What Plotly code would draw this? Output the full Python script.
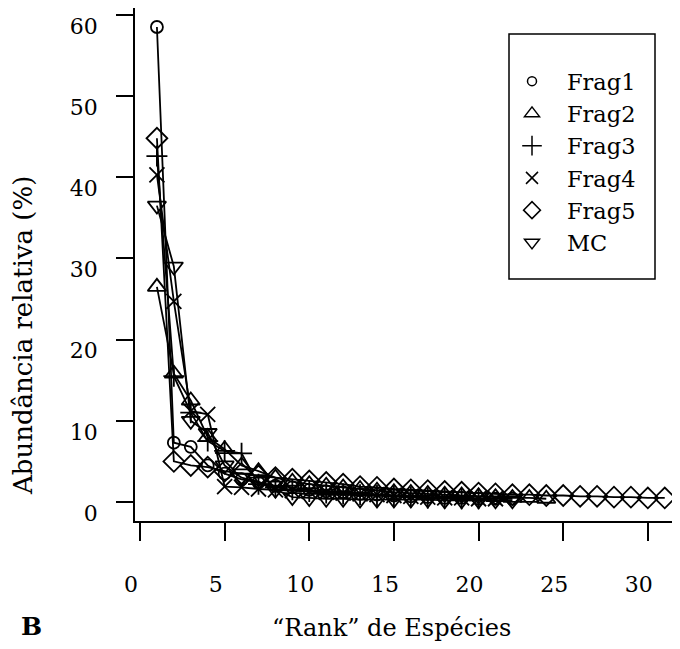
import plotly.graph_objects as go

# ---- data ----
series_names = ["Frag1", "Frag2", "Frag3", "Frag4", "Frag5", "MC"]
frag1 = [58.5, 7.3, 6.8, 4.5, 3.5, 2.8, 2.4, 2.0, 1.8, 1.5, 1.3, 1.2, 1.0, 0.9, 0.8, 0.7, 0.6, 0.5, 0.5, 0.4, 0.4, 0.4]
frag2 = [26.5, 15.8, 12.5, 8.0, 6.5, 4.5, 3.8, 3.0, 2.5, 2.2, 2.0, 1.8, 1.6, 1.4, 1.2, 1.1, 1.0, 0.9, 0.8, 0.7, 0.6, 0.5, 0.5, 0.4]
frag3 = [42.6, 15.5, 11.0, 7.5, 6.3, 6.0, 2.2, 1.8, 1.5, 1.3, 1.1, 1.0, 0.9, 0.8, 0.7, 0.6, 0.5, 0.5, 0.4, 0.4]
frag4 = [40.3, 24.7, 11.2, 10.8, 1.9, 1.8, 1.6, 1.5, 1.4, 1.3, 1.2, 1.1, 1.0, 0.9, 0.8, 0.7, 0.6, 0.5, 0.5, 0.4, 0.4]
frag5 = [44.8, 5.0, 4.5, 4.3, 3.8, 3.5, 3.2, 3.0, 2.8, 2.6, 2.4, 2.2, 1.9, 1.8, 1.6, 1.5, 1.4, 1.3, 1.2, 1.1,
         1.0, 0.9, 0.9, 0.8, 0.8, 0.7, 0.7, 0.6, 0.6, 0.5, 0.5]
mc = [36.5, 29.0, 10.0, 8.5, 4.5, 3.0, 2.5, 1.5, 0.6, 0.5, 0.4, 0.4, 0.3, 0.3, 0.3, 0.3, 0.3, 0.2, 0.2, 0.2, 0.2, 0.2]

x_ticks = [0, 5, 10, 15, 20, 25, 30]
y_ticks = [0, 10, 20, 30, 40, 50, 60]
x_title = "“Rank” de Espécies"
y_title = "Abundância relativa (%)"
panel_label = "B"

# ---- styling ----
FONT = "DejaVu Serif"
all_series = [frag1, frag2, frag3, frag4, frag5, mc]
symbols = ["circle-open", "triangle-up-open", "cross-thin-open", "x-thin-open", "diamond-open", "triangle-down-open"]
sizes = [12, 16, 15, 15, 16, 16]
legend_sizes = [9, 13, 14, 12, 13, 13]

fig = go.Figure()
for name, vals, sym, sz in zip(series_names, all_series, symbols, sizes):
    fig.add_trace(go.Scatter(
        x=list(range(1, len(vals) + 1)), y=vals, mode="lines+markers",
        line=dict(color="black", width=1.8),
        marker=dict(symbol=sym, size=sz, color="black", line=dict(color="black", width=1.8)),
        showlegend=False, name=name,
    ))
for name, sym, sz in zip(series_names, symbols, legend_sizes):
    fig.add_trace(go.Scatter(
        x=[None], y=[None], mode="markers", name=name,
        marker=dict(symbol=sym, size=sz, color="black", line=dict(color="black", width=1.5)),
        showlegend=True,
    ))

# page has an 8px body margin: figure origin sits at page (8, 8)
OFF = 8
W, H = 672, 641
L, R, T, B = 127, 0, 0, 128
pw, ph = W - L - R, H - T - B

def px2paper_x(page_px):
    return (page_px - OFF - L) / pw

def px2paper_y(page_py):
    return (H - B - (page_py - OFF)) / ph

fig.update_layout(
    template="none",
    width=W, height=H,
    margin=dict(l=L, r=R, t=T, b=B, pad=0),
    paper_bgcolor="white", plot_bgcolor="white",
    font=dict(family=FONT, size=22, color="black"),
    showlegend=True,
    legend=dict(
        x=px2paper_x(497), y=px2paper_y(60), xanchor="left", yanchor="top",
        bgcolor="rgba(0,0,0,0)", borderwidth=0,
        font=dict(family=FONT, size=22.5, color="black"),
        itemsizing="trace", itemwidth=60,
    ),
    xaxis=dict(
        range=[-0.295, 31.9], tickvals=x_ticks, showgrid=False, zeroline=False,
        showline=True, linecolor="black", linewidth=1.5, automargin=False,
        ticks="outside", ticklen=18, tickwidth=1.5, tickcolor="black",
        ticklabelstandoff=25, ticklabelshift=-9,
        tickfont=dict(family=FONT, size=22, color="black"),
    ),
    yaxis=dict(
        range=[-2.34, 60.84], tickvals=y_ticks, showgrid=False, zeroline=False,
        showline=True, linecolor="black", linewidth=1.5, automargin=False,
        ticks="outside", ticklen=17, tickwidth=1.5, tickcolor="black",
        ticklabelstandoff=14, ticklabelshift=11,
        tickfont=dict(family=FONT, size=22, color="black"),
    ),
    shapes=[dict(
        type="rect", xref="paper", yref="paper",
        x0=px2paper_x(509), x1=px2paper_x(655), y0=px2paper_y(279), y1=px2paper_y(34),
        line=dict(color="black", width=1.5), fillcolor="rgba(0,0,0,0)",
    )],
    annotations=[
        dict(text=y_title, xref="paper", yref="paper", x=px2paper_x(23), y=px2paper_y(336),
             showarrow=False, textangle=-90, font=dict(family=FONT, size=26, color="black"),
             xanchor="center", yanchor="middle"),
        dict(text=x_title, xref="paper", yref="paper", x=px2paper_x(391), y=px2paper_y(628),
             showarrow=False, font=dict(family=FONT, size=24, color="black"),
             xanchor="center", yanchor="middle"),
        dict(text="<b>" + panel_label + "</b>", xref="paper", yref="paper", x=px2paper_x(31), y=px2paper_y(626),
             showarrow=False, font=dict(family=FONT, size=25, color="black"),
             xanchor="center", yanchor="middle"),
    ],
)

fig.write_html("out.html")
